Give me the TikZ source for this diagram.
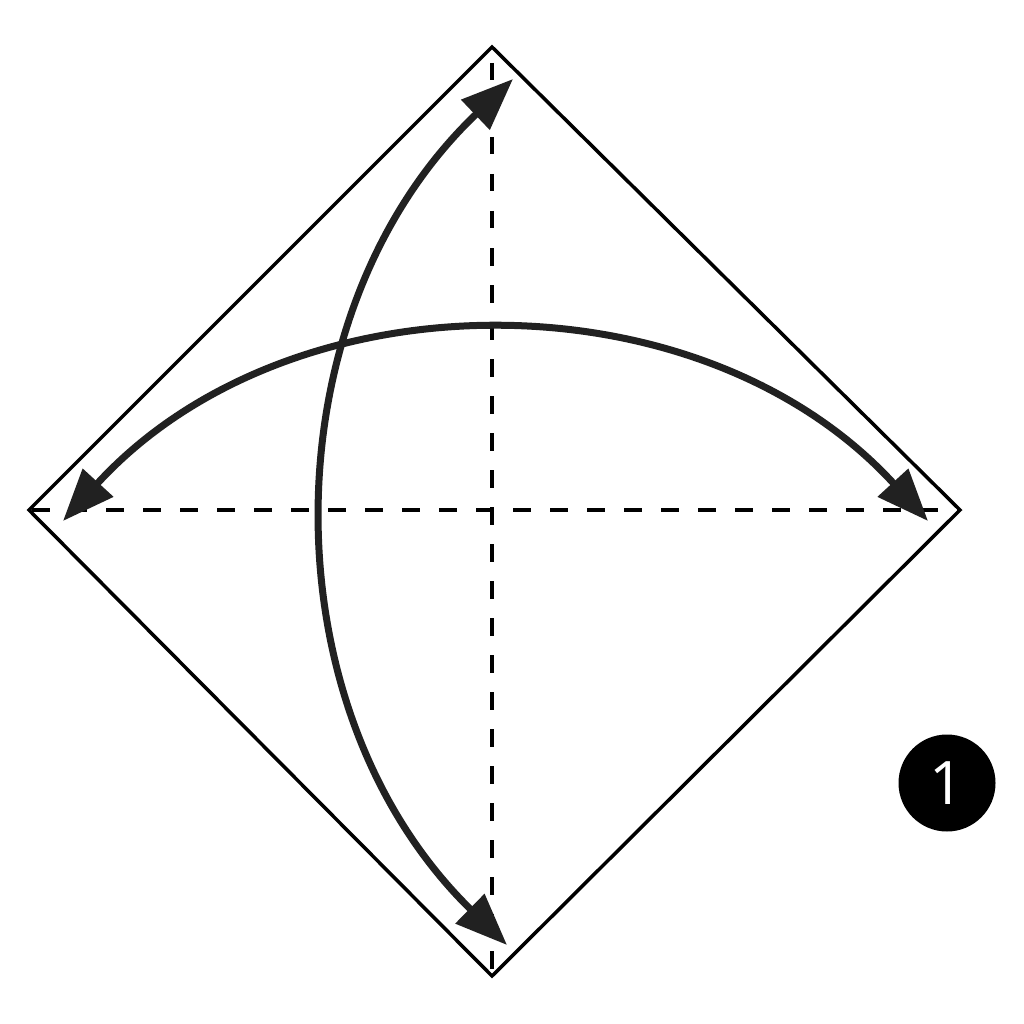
\documentclass[tikz,border=0pt]{standalone}
\usepackage{fontspec}
\setsansfont{Open Sans}
\usetikzlibrary{arrows.meta}
\begin{document}
\begin{tikzpicture}[x=1pt,y=-1pt,
  paper/.style={line width=3.5pt,line join=miter},
  crease/.style={line width=3.3pt,dash pattern=on 17.5pt off 19.5pt},
  foldarrow/.style={line width=7pt,color=black!87,{Triangle[length=52pt,width=40pt]}-{Triangle[length=52pt,width=40pt]}},
  badge/.style={circle,fill=black,minimum size=97pt,inner sep=0pt,text=white,font=\sffamily\fontsize{60}{60}\selectfont}
]
\useasboundingbox (0,0) rectangle (1024,1024);
\fill[white] (0,0) rectangle (1024,1024);
% paper corners
\coordinate (T) at (492,47);
\coordinate (L) at (29,510);
\coordinate (R) at (960,510);
\coordinate (B) at (492,976);
% crease lines
\draw[crease,dash phase=-3pt] (L) -- (R);
\draw[crease,dash phase=21pt] (T) -- (B);
% paper outline
\draw[paper] (T) -- (R) -- (B) -- (L) -- cycle;
% arrow end points
\coordinate (hl) at (63,521);
\coordinate (hr) at (928,521);
\coordinate (vt) at (513,79);
\coordinate (vb) at (507,945);
\draw[foldarrow] (hl) to[bend left=47.5] (hr);
\draw[foldarrow] (vt) to[bend right=46] (vb);
% step badge
\node[badge] (num) at (947,783) {1};
\end{tikzpicture}
\end{document}
